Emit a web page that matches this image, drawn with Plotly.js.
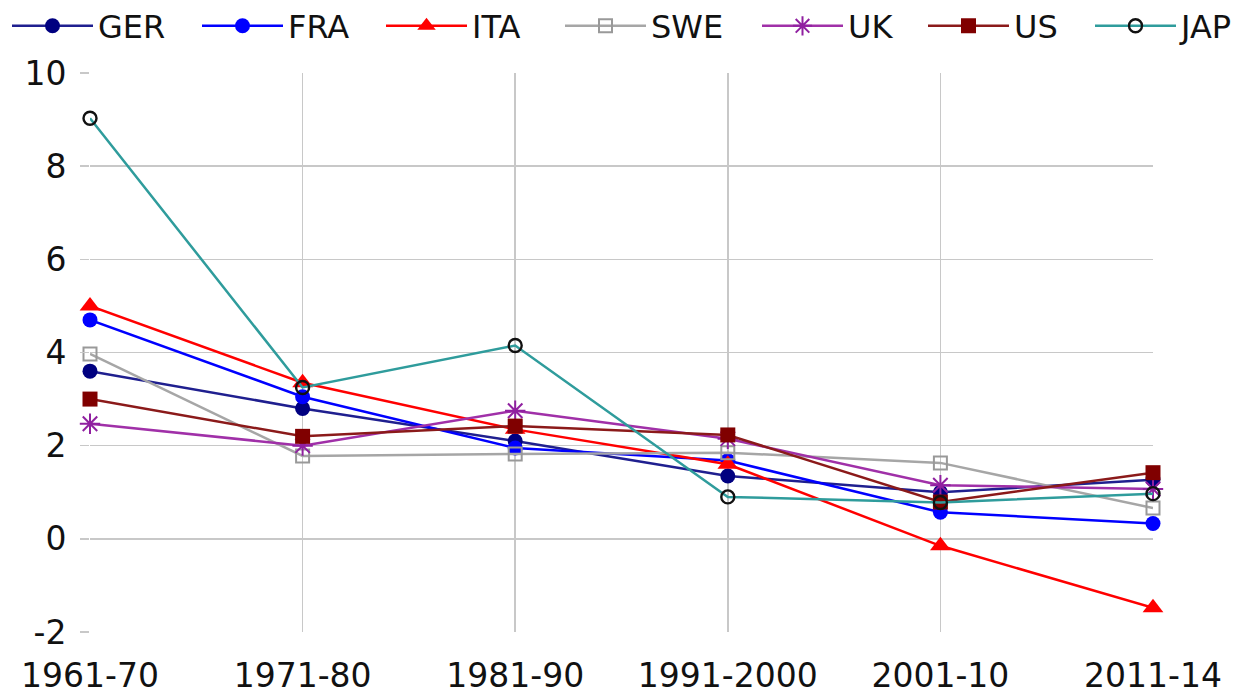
<!DOCTYPE html>
<html>
<head>
<meta charset="utf-8">
<script src="https://cdn.plot.ly/plotly-3.0.1.min.js"></script>
<style>html,body{margin:0;padding:0;background:#fff;}#chart{width:1248px;height:695px;}</style>
</head>
<body>
<div id="chart"></div>
<script>
const periods = ["1961-70", "1971-80", "1981-90", "1991-2000", "2001-10", "2011-14"];
const GER = [3.6, 2.8, 2.1, 1.35, 1.0, 1.27];
const FRA = [4.7, 3.05, 1.95, 1.68, 0.57, 0.33];
const ITA = [5.0, 3.35, 2.35, 1.6, -0.15, -1.48];
const SWE = [3.97, 1.78, 1.82, 1.85, 1.63, 0.66];
const UK  = [2.47, 2.0, 2.75, 2.15, 1.15, 1.07];
const US  = [3.0, 2.2, 2.42, 2.23, 0.79, 1.42];
const JAP = [9.03, 3.25, 4.15, 0.9, 0.78, 0.97];
const seriesNames = ["GER", "FRA", "ITA", "SWE", "UK", "US", "JAP"];
const yTicks = [-2, 0, 2, 4, 6, 8, 10];

const FONT = "DejaVu Sans, Verdana, sans-serif";
const W = 1248, H = 695;
const M = {l: 90, r: 95, t: 73, b: 63};
const plotW = W - M.l - M.r, plotH = H - M.t - M.b;
// legend entry line starts (px) as laid out in the original
const legendStarts = [12, 202, 386, 565, 762, 928, 1095];

function tr(i, y, color, symbol, size, mcolor, lw, mline) {
  return {
    x: periods, y: y, name: seriesNames[i], type: "scatter", mode: "lines+markers",
    legend: i === 0 ? "legend" : "legend" + (i + 1),
    line: {color: color, width: 2.5},
    marker: {symbol: symbol, size: size, color: mcolor, line: {color: mline || mcolor, width: lw}},
    cliponaxis: false
  };
}

const data = [
  tr(0, GER, "#1f1f8f", "circle", 15, "#000080", 0),
  tr(1, FRA, "#0000ff", "circle", 15, "#0000ff", 0),
  tr(2, ITA, "#ff0000", "triangle-up", 18, "#ff0000", 0),
  tr(3, SWE, "#a6a6a6", "square-open", 13, "#999999", 2),
  tr(4, UK, "#a030a8", "asterisk-open", 17, "#9020a0", 2, "#9020a0"),
  tr(5, US, "#8b1a1a", "square", 15, "#800000", 0),
  tr(6, JAP, "#2f9c9c", "circle-open", 13, "#111111", 2.4, "#111111")
];

const layout = {
  width: W, height: H,
  margin: {l: M.l, r: M.r, t: M.t, b: M.b, autoexpand: false},
  paper_bgcolor: "#ffffff", plot_bgcolor: "#ffffff",
  font: {family: FONT, size: 32, color: "#111111"},
  showlegend: true,
  xaxis: {
    type: "category", range: [0, 5],
    showgrid: true, gridcolor: "#c8c8c8", gridwidth: 1.5,
    zeroline: false, showline: false, ticks: "",
    ticklabelstandoff: 21,
    tickfont: {family: FONT, size: 33, color: "#111111"}
  },
  yaxis: {
    range: [-2, 10], tickvals: yTicks, ticktext: yTicks.map(String),
    showgrid: true, gridcolor: "#c8c8c8", gridwidth: 1.5,
    zeroline: false, showline: false,
    ticks: "outside", ticklen: 9, tickcolor: "#c8c8c8", tickwidth: 1.5,
    ticklabelstandoff: 7,
    tickfont: {family: FONT, size: 33, color: "#111111"}
  }
};

const legendY = (H - M.b - 26) / plotH;
legendStarts.forEach(function (px, i) {
  const key = i === 0 ? "legend" : "legend" + (i + 1);
  layout[key] = {
    orientation: "h", xanchor: "left", yanchor: "middle",
    x: (px - 5 - M.l) / plotW, y: legendY,
    font: {family: FONT, size: 32, color: "#111111"},
    itemwidth: 81, bgcolor: "rgba(0,0,0,0)", borderwidth: 0
  };
});

Plotly.newPlot("chart", data, layout, {displayModeBar: false, staticPlot: true});
</script>
</body>
</html>
